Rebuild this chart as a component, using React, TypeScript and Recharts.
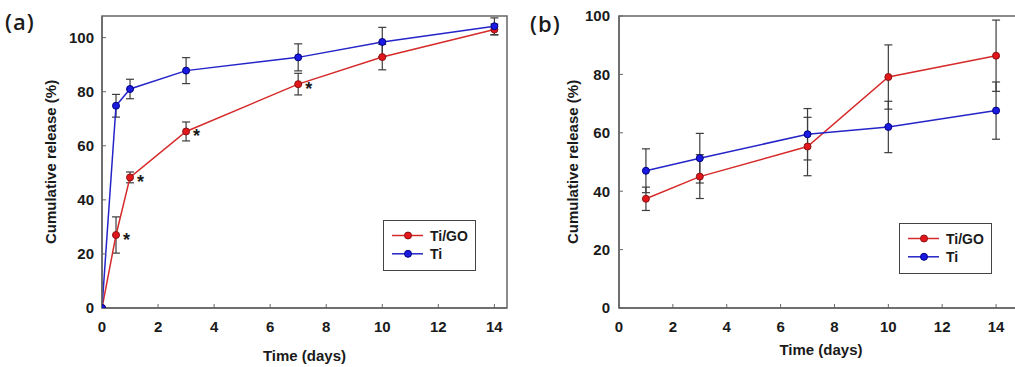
import React from 'react';
import { LineChart, Line, XAxis, YAxis, ErrorBar, LabelList, Legend, ReferenceArea } from 'recharts';

// ---------- Panel (a) data ----------
const aDays = [0, 0.5, 1, 3, 7, 10, 14];
const aTiGO = [0, 27.0, 48.3, 65.3, 82.8, 92.8, 103.0];
const aTiGOErr = [null, 6.7, 2.0, 3.5, 4.0, 4.7, 2.0];
const aTi = [0, 74.8, 81.0, 87.8, 92.7, 98.4, 104.2];
const aTiErr = [null, 4.2, 3.6, 4.8, 5.0, 5.4, 3.1];
const aSig = ['', '*', '*', '*', '*', '', ''];

// ---------- Panel (b) data ----------
const bDays = [1, 3, 7, 10, 14];
const bTiGO = [37.4, 45.0, 55.3, 79.1, 86.4];
const bTiGOErr = [4.0, 7.5, 10.0, 11.0, 12.2];
const bTi = [47.0, 51.3, 59.5, 62.0, 67.6];
const bTiErr = [7.5, 8.5, 8.8, 8.8, 9.8];

const xTicks = [0, 2, 4, 6, 8, 10, 12, 14];
const yTicks = [0, 20, 40, 60, 80, 100];
const seriesNames = ['Ti/GO', 'Ti'];
const xTitle = 'Time (days)';
const yTitle = 'Cumulative release (%)';

const FONT = '"Liberation Sans", Arial, Helvetica, sans-serif';
const RED = '#d62a2a';
const RED_FILL = '#e3161c';
const RED_EDGE = '#8a1212';
const BLUE = '#2424c8';
const BLUE_FILL = '#1a1ae0';
const BLUE_EDGE = '#000080';
const AXIS = '#666666';
const ERR = '#3c3c3c';
const TEXT = '#1a1a1a';

const markerFill: Record<string, string> = { 'Ti/GO': RED_FILL, Ti: BLUE_FILL };
const markerEdge: Record<string, string> = { 'Ti/GO': RED_EDGE, Ti: BLUE_EDGE };

function buildRows(days: number[], tigo: number[], tigoErr: (number | null)[], ti: number[], tiErr: (number | null)[], sig?: string[]) {
  return days.map((d, i) => ({
    day: d,
    tigo: tigo[i],
    tigoErr: tigoErr[i],
    ti: ti[i],
    tiErr: tiErr[i],
    sig: sig ? sig[i] : '',
  }));
}

const dataA = buildRows(aDays, aTiGO, aTiGOErr, aTi, aTiErr, aSig);
const dataB = buildRows(bDays, bTiGO, bTiGOErr, bTi, bTiErr);

const Star = (props: any) => {
  const { x, y, value } = props;
  if (value !== '*') return null;
  return (
    <text x={x + 7} y={y + 11} fontSize={18} fontWeight="bold" fontFamily={FONT} fill={TEXT}>
      *
    </text>
  );
};

const LegendBox = (props: any) => {
  const payload = [...(props.payload || [])].sort(
    (a: any, b: any) => seriesNames.indexOf(a.value) - seriesNames.indexOf(b.value)
  );
  return (
    <svg width={93} height={51} style={{ display: 'block' }}>
      <rect x={0.5} y={0.5} width={92} height={50} fill="#fff" stroke="#444" strokeWidth={1} />
      {payload.map((p: any, i: number) => {
        const cy = 15.5 + i * 18.3;
        return (
          <g key={i}>
            <line x1={9} x2={40} y1={cy} y2={cy} stroke={p.color} strokeWidth={1.5} />
            <circle cx={25} cy={cy} r={3.5} fill={markerFill[p.value]} stroke={markerEdge[p.value]} strokeWidth={1} />
            <text x={47} y={cy + 5} fontSize={14} fontWeight="bold" fontFamily={FONT} fill={TEXT}>
              {p.value}
            </text>
          </g>
        );
      })}
    </svg>
  );
};

const tickStyle = { fill: TEXT, fontSize: 15, fontWeight: 'bold', fontFamily: FONT };
const titleStyle = { fill: TEXT, fontSize: 15, fontWeight: 'bold', fontFamily: FONT };

function renderSeries(withStars: boolean) {
  return [
    <Line
      key="tigo"
      dataKey="tigo"
      name={seriesNames[0]}
      stroke={RED}
      strokeWidth={1.5}
      dot={{ r: 3.5, fill: RED_FILL, stroke: RED_EDGE, strokeWidth: 1 }}
      activeDot={false}
      isAnimationActive={false}
    >
      <ErrorBar dataKey="tigoErr" width={4} stroke={ERR} strokeWidth={1.2} direction="y" />
      {withStars ? <LabelList dataKey="sig" content={Star} /> : null}
    </Line>,
    <Line
      key="ti"
      dataKey="ti"
      name={seriesNames[1]}
      stroke={BLUE}
      strokeWidth={1.5}
      dot={{ r: 3.5, fill: BLUE_FILL, stroke: BLUE_EDGE, strokeWidth: 1 }}
      activeDot={false}
      isAnimationActive={false}
    >
      <ErrorBar dataKey="tiErr" width={4} stroke={ERR} strokeWidth={1.2} direction="y" />
    </Line>,
  ];
}

export default function App() {
  return (
    <div style={{ position: 'absolute', left: 0, top: 0, width: 1015, height: 367, overflow: 'hidden', background: '#fff' }}>
      <svg width={1015} height={367} style={{ position: 'absolute', left: 0, top: 0 }}>
        <text x={5} y={30} fontSize={22} fontWeight={600} fontFamily='"Open Sans", "Noto Sans", sans-serif' fill={TEXT} letterSpacing={1}>
          (a)
        </text>
        <text x={530} y={31.5} fontSize={22} fontWeight={600} fontFamily='"Open Sans", "Noto Sans", sans-serif' fill={TEXT} letterSpacing={1}>
          (b)
        </text>
      </svg>

      <div style={{ position: 'absolute', left: 0, top: 0 }}>
        <LineChart width={512} height={367} data={dataA} margin={{ top: 16, right: 5, bottom: 0, left: 0 }}>
          <ReferenceArea x1={0} x2={14.45} y1={0} y2={108} fill="none" stroke={AXIS} strokeWidth={1.5} />
          <XAxis
            dataKey="day"
            type="number"
            domain={[0, 14.45]}
            ticks={xTicks}
            allowDataOverflow
            height={59}
            tickSize={-4}
            tickMargin={17.5}
            axisLine={{ stroke: AXIS, strokeWidth: 1.5 }}
            tickLine={{ stroke: AXIS }}
            tick={tickStyle}
            label={{ value: xTitle, position: 'insideBottom', offset: 6.5, ...titleStyle }}
          />
          <YAxis
            type="number"
            domain={[0, 108]}
            ticks={yTicks}
            allowDataOverflow
            width={102}
            tickSize={-4}
            tickMargin={12}
            axisLine={{ stroke: AXIS, strokeWidth: 1.5 }}
            tickLine={{ stroke: AXIS }}
            tick={tickStyle}
            label={{ value: yTitle, angle: -90, position: 'center', ...titleStyle }}
          />
          {renderSeries(true)}
          <Legend
            layout="vertical"
            align="center"
            verticalAlign="middle"
            wrapperStyle={{ left: 383, top: 220, width: 93, height: 51 }}
            content={(p: any) => <LegendBox {...p} />}
          />
        </LineChart>
      </div>

      <div style={{ position: 'absolute', left: 520, top: 0 }}>
        <LineChart width={503} height={367} data={dataB} margin={{ top: 16, right: 0, bottom: 0, left: 7 }}>
          <ReferenceArea x1={0} x2={15} y1={0} y2={100} fill="none" stroke={AXIS} strokeWidth={1.5} />
          <XAxis
            dataKey="day"
            type="number"
            domain={[0, 15]}
            ticks={xTicks}
            allowDataOverflow
            height={59}
            tickSize={-4}
            tickMargin={17}
            axisLine={{ stroke: AXIS, strokeWidth: 1.5 }}
            tickLine={{ stroke: AXIS }}
            tick={tickStyle}
            label={{ value: xTitle, position: 'insideBottom', offset: 12.5, ...titleStyle }}
          />
          <YAxis
            type="number"
            domain={[0, 100]}
            ticks={yTicks}
            allowDataOverflow
            width={92}
            tickSize={-4}
            tickMargin={13}
            axisLine={{ stroke: AXIS, strokeWidth: 1.5 }}
            tickLine={{ stroke: AXIS }}
            tick={tickStyle}
            label={{ value: yTitle, angle: -90, position: 'center', ...titleStyle }}
          />
          {renderSeries(false)}
          <Legend
            layout="vertical"
            align="center"
            verticalAlign="middle"
            wrapperStyle={{ left: 379, top: 223, width: 93, height: 51 }}
            content={(p: any) => <LegendBox {...p} />}
          />
        </LineChart>
      </div>
    </div>
  );
}
